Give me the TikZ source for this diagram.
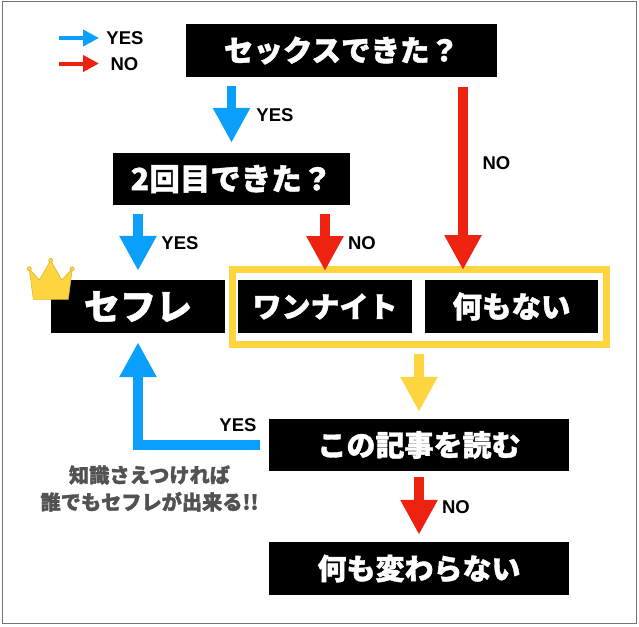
\documentclass[tikz,border=0pt]{standalone}
\usepackage{fontspec}
\setmainfont{Liberation Sans}
\newfontfamily\jpfont[BoldFeatures={FakeBold=1.4}]{Noto Sans CJK JP}
\usetikzlibrary{arrows.meta}
\definecolor{flowblue}{HTML}{0A9FFB}
\definecolor{flowred}{HTML}{EE2210}
\definecolor{flowyellow}{HTML}{FFD53F}
\tikzset{
	kasten/.style={fill=black, text=white, inner sep=0pt, font=\jpfont\bfseries},
	antwort/.style={inner sep=0pt, font=\bfseries\fontsize{18.5}{18.5}\selectfont},
	pfeil/.style={line width=9.5pt, -{Triangle[length=35pt,width=35pt]}},
	minipfeil/.style={line width=4pt, -{Triangle[length=16pt,width=16pt]}},
}
\begin{document}
\begin{tikzpicture}[x=1pt, y=-1pt]
	\useasboundingbox (0,0) rectangle (639,626);
	\draw[color=black!55, line width=1pt] (2,2) rectangle (636.5,623);
	% Legende
	\coordinate (legblaustart) at (59,38);
	\coordinate (legblauende) at (99,38);
	\coordinate (legrotstart) at (59,63.5);
	\coordinate (legrotende) at (99,63.5);
	\draw[minipfeil, flowblue] (legblaustart) -- (legblauende);
	\draw[minipfeil, flowred] (legrotstart) -- (legrotende);
	\node[antwort] (legyes) at (125,38) {YES};
	\node[antwort] (legno) at (124.5,64) {NO};
	% Rahmen um die beiden Ergebnisse
	\node[draw=flowyellow, line width=7pt, minimum width=374pt, minimum height=75pt, inner sep=0pt] (rahmen) at (419,307) {};
	% Kaesten
	\node[kasten, minimum width=311pt, minimum height=53pt] (frage) at (341.5,50.5) {\fontsize{29.5}{29.5}\selectfont セックスできた？};
	\node[kasten, minimum width=237pt, minimum height=52pt] (zweite) at (231.5,179) {\fontsize{30.5}{30.5}\selectfont 2回目できた？};
	\node[kasten, minimum width=174pt, minimum height=53pt] (sefure) at (138,306.5) {\fontsize{36}{36}\selectfont セフレ};
	\node[kasten, minimum width=174pt, minimum height=53pt] (einmal) at (325,306.5) {\fontsize{29}{29}\selectfont ワンナイト};
	\node[kasten, minimum width=173pt, minimum height=53pt] (nichts) at (511.5,306.5) {\fontsize{29.5}{29.5}\selectfont 何もない};
	\node[kasten, minimum width=300pt, minimum height=52pt] (artikel) at (419,445) {\fontsize{29}{29}\selectfont この記事を読む};
	\node[kasten, minimum width=300pt, minimum height=53pt] (gleich) at (419,568.5) {\fontsize{29}{29}\selectfont 何も変わらない};
	% Pfeile
	\coordinate (einmalspitze) at (325,271);
	\coordinate (nichtsstart) at (463,87);
	\coordinate (nichtsspitze) at (463,270);
	\draw[pfeil, flowblue, shorten <=9pt, shorten >=10pt] (frage.south -| zweite.north) -- (zweite.north);
	\draw[pfeil, flowblue, shorten <=8.5pt, shorten >=9pt] (zweite.south -| sefure.north) -- (sefure.north);
	\draw[pfeil, flowred, shorten <=8.5pt] (zweite.south -| einmal.north) -- (einmalspitze);
	\draw[pfeil, flowred] (nichtsstart) -- (nichtsspitze);
	\draw[pfeil, flowyellow, shorten <=6pt, shorten >=7pt] (rahmen.south) -- (artikel.north);
	\draw[pfeil, flowred, shorten <=6pt, shorten >=7pt] (artikel.south) -- (gleich.north);
	\draw[pfeil, flowblue, shorten <=9pt, shorten >=9pt] (artikel.west) -| (sefure.south);
	% Beschriftungen
	\node[antwort] (yeseins) at (275,115) {YES};
	\node[antwort] (yeszwei) at (180,243) {YES};
	\node[antwort] (yesdrei) at (238,425) {YES};
	\node[antwort] (noeins) at (496.5,163) {NO};
	\node[antwort] (nozwei) at (362,243) {NO};
	\node[antwort] (nodrei) at (456,507) {NO};
	\node[inner sep=0pt, text=black!68, align=center, font=\jpfont\bfseries\fontsize{20.2}{27}\selectfont] (hinweis) at (149.5,488.5) {知識さえつければ\\誰でもセフレが出来る!!};
	% Krone
	\filldraw[draw=flowyellow!85!black, fill=flowyellow, line width=0.6pt] (33.3,299.3) -- (29.3,268.7) -- (39.3,280) -- (50.7,260.3) -- (61.7,280) -- (72.3,268.7) -- (68.3,299.3) -- cycle;
	\foreach \x/\y in {29.3/268.7, 50.7/260.3, 72.3/268.7}
		\filldraw[draw=flowyellow!85!black, fill=flowyellow, line width=0.6pt] (\x,\y) circle (2pt);
\end{tikzpicture}
\end{document}
